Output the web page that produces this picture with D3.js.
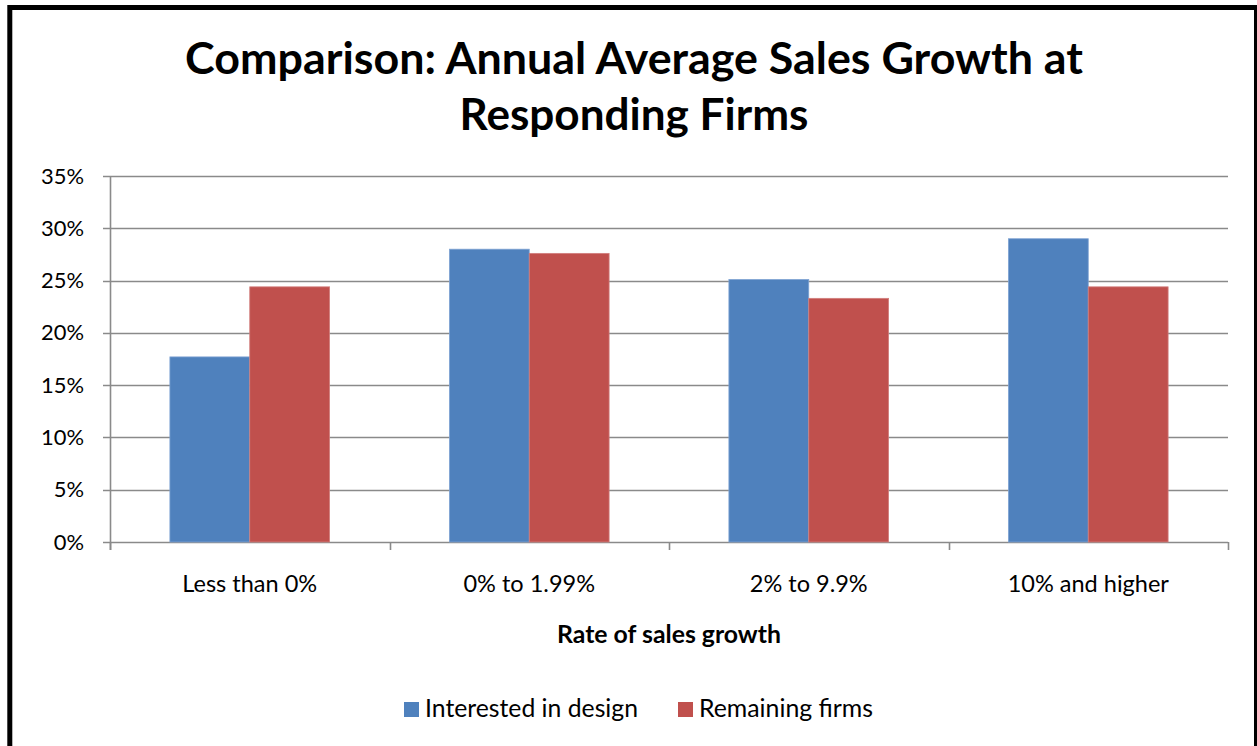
<!DOCTYPE html>
<html>
<head>
<meta charset="utf-8">
<script src="https://cdn.jsdelivr.net/npm/d3@7"></script>
<style>
  html, body { margin: 0; padding: 0; background: #fff; }
  svg { display: block; }
  text { font-family: Lato, "Open Sans", "Liberation Sans", sans-serif; fill: #000; }
</style>
</head>
<body>
<svg id="chart" width="1257" height="746"></svg>
<script>
const categories = ["Less than 0%", "0% to 1.99%", "2% to 9.9%", "10% and higher"];
const seriesNames = ["Interested in design", "Remaining firms"];
const interestedInDesign = [17.7, 28.0, 25.1, 29.0];
const remainingFirms = [24.4, 27.6, 23.3, 24.4];
const yTicks = [0, 5, 10, 15, 20, 25, 30, 35];
const titleLines = ["Comparison: Annual Average Sales Growth at", "Responding Firms"];
const xAxisTitle = "Rate of sales growth";

const colors = ["#4F81BD", "#C0504D"];
const edgeColors = ["#7FA3D3", "#D27F7D"];
const values = [interestedInDesign, remainingFirms];

const svg = d3.select("#chart");

// outer border
svg.append("rect").attr("x", 9.8).attr("y", 7.5).attr("width", 1246.7).attr("height", 760)
  .attr("fill", "none").attr("stroke", "#000").attr("stroke-width", 5);

function fitText(sel, targetW) {
  const n = sel.node();
  const fs = parseFloat(sel.attr("font-size"));
  const w = n.getComputedTextLength();
  if (w > 0) sel.attr("font-size", (fs * targetW / w).toFixed(2));
  return sel;
}
function fitSize(text, baseSize, weight, targetW) {
  const tmp = svg.append("text").attr("font-size", baseSize).attr("font-weight", weight).text(text);
  const w = tmp.node().getComputedTextLength();
  tmp.remove();
  return w > 0 ? baseSize * targetW / w : baseSize;
}

// Title
const t1 = svg.append("text").attr("x", 634).attr("y", 74).attr("text-anchor", "middle")
  .attr("font-size", 42).attr("font-weight", "bold").text(titleLines[0]);
fitText(t1, 898);
const t2 = svg.append("text").attr("x", 634).attr("y", 130).attr("text-anchor", "middle")
  .attr("font-size", 42).attr("font-weight", "bold").text(titleLines[1]);
fitText(t2, 349);

const plot = { left: 110, right: 1228, top: 176, bottom: 542 };

const y = d3.scaleLinear().domain([0, 35]).range([plot.bottom, plot.top]);
const x0 = d3.scaleBand().domain(categories).range([plot.left, plot.right]).paddingInner(0).paddingOuter(0);
const step = x0.step();
const x1 = d3.scaleBand().domain(seriesNames).range([step * 0.2143, step * 0.7857]).padding(0);

// gridlines
svg.append("g").selectAll("line").data(yTicks).join("line")
  .attr("x1", plot.left - 7).attr("x2", plot.right)
  .attr("y1", d => Math.round(y(d)) + 0.5).attr("y2", d => Math.round(y(d)) + 0.5)
  .attr("stroke", "#8A8A8A").attr("stroke-width", 1.6);

// y axis line
svg.append("line").attr("x1", plot.left + 0.5).attr("x2", plot.left + 0.5)
  .attr("y1", plot.top).attr("y2", plot.bottom + 8)
  .attr("stroke", "#8A8A8A").attr("stroke-width", 1.6);

// x tick marks
const xTickPos = categories.map(c => x0(c)).concat([plot.right]);
svg.append("g").selectAll("line").data(xTickPos).join("line")
  .attr("x1", d => Math.round(d) + 0.5).attr("x2", d => Math.round(d) + 0.5)
  .attr("y1", plot.bottom).attr("y2", plot.bottom + 8)
  .attr("stroke", "#8A8A8A").attr("stroke-width", 1.6);

// y tick labels
const yFs = fitSize("35%", 20, "normal", 43);
svg.append("g").selectAll("text").data(yTicks).join("text")
  .attr("x", 84).attr("y", d => y(d) + 7.5).attr("text-anchor", "end")
  .attr("font-size", yFs).text(d => d + "%");

// bars
const groups = svg.append("g").selectAll("g").data(categories).join("g")
  .attr("transform", c => `translate(${x0(c)},0)`);
groups.selectAll("rect").data((c, i) => seriesNames.map((s, j) => ({ s, j, v: values[j][i] })))
  .join("rect")
  .attr("x", d => x1(d.s))
  .attr("width", x1.bandwidth())
  .attr("y", d => y(d.v))
  .attr("height", d => plot.bottom - y(d.v))
  .attr("fill", d => colors[d.j])
  .attr("stroke", d => edgeColors[d.j]).attr("stroke-width", 0.8);

// x labels
const xFs = fitSize(categories[0], 21, "normal", 135);
svg.append("g").selectAll("text").data(categories).join("text")
  .attr("x", c => x0(c) + step / 2).attr("y", 592).attr("text-anchor", "middle")
  .attr("font-size", xFs).text(c => c);

// x axis title
const xt = svg.append("text").attr("x", 669).attr("y", 643).attr("text-anchor", "middle")
  .attr("font-size", 21).attr("font-weight", "bold").text(xAxisTitle);
fitText(xt, 224);

// legend
const legendItems = [
  { name: seriesNames[0], sx: 404, tx: 425, tw: 213 },
  { name: seriesNames[1], sx: 678, tx: 699, tw: 174 }
];
legendItems.forEach((d, i) => {
  svg.append("rect").attr("x", d.sx).attr("y", 702).attr("width", 15).attr("height", 15)
    .attr("fill", colors[i]);
  const lt = svg.append("text").attr("x", d.tx).attr("y", 717).attr("font-size", 22).text(d.name);
  fitText(lt, d.tw);
});
</script>
</body>
</html>
